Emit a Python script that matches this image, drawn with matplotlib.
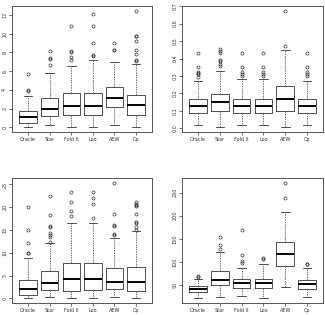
import matplotlib
matplotlib.use("Agg")
import matplotlib.pyplot as plt

methods = ["Oracle", "Star", "Fold II", "Loo", "AEW", "Cp"]

# per panel: [low whisker, Q1, median, Q3, high whisker] for each method, plus outliers
tl_stats = [
    [0.0, 0.43, 1.07, 1.71, 3.31],
    [0.2, 1.25, 1.96, 3.10, 5.80],
    [0.0, 1.30, 2.24, 3.63, 6.60],
    [0.0, 1.28, 2.28, 3.67, 7.15],
    [0.28, 2.14, 3.13, 4.27, 7.00],
    [0.07, 1.30, 2.35, 3.49, 6.73],
]
tl_fliers = [
    [3.9, 4.0, 5.7],
    [6.7, 7.3, 7.4, 8.15],
    [7.2, 7.55, 8.0, 8.15, 10.8],
    [7.6, 7.7, 9.0, 10.85, 12.06],
    [8.22, 8.3, 9.0],
    [7.08, 7.2, 7.8, 8.26, 9.25, 9.7, 9.8, 12.46],
]

tr_stats = [
    [0.021, 0.086, 0.126, 0.166, 0.271],
    [0.006, 0.097, 0.149, 0.195, 0.328],
    [0.021, 0.086, 0.130, 0.166, 0.281],
    [0.021, 0.086, 0.126, 0.166, 0.281],
    [0.0095, 0.101, 0.168, 0.240, 0.448],
    [0.021, 0.086, 0.126, 0.166, 0.271],
]
tr_fliers = [
    [0.296, 0.313, 0.319, 0.324, 0.353, 0.431],
    [0.355, 0.368, 0.387, 0.391, 0.433, 0.445, 0.456],
    [0.300, 0.311, 0.322, 0.353, 0.431],
    [0.300, 0.311, 0.324, 0.353, 0.431],
    [0.471, 0.674],
    [0.298, 0.311, 0.321, 0.353, 0.431],
]

bl_stats = [
    [0.0, 0.66, 2.05, 4.02, 8.77],
    [0.22, 1.75, 3.29, 5.92, 12.06],
    [0.0, 1.68, 4.17, 7.68, 16.45],
    [0.0, 1.75, 4.24, 7.68, 16.45],
    [0.22, 1.97, 3.58, 6.58, 13.3],
    [0.0, 1.54, 3.58, 6.87, 14.7],
]
bl_fliers = [
    [9.87, 10.0, 12.06, 14.99, 20.1],
    [12.28, 13.5, 13.9, 14.25, 15.7, 15.9, 18.4, 22.5],
    [18.1, 19.2, 21.2, 23.3],
    [17.7, 20.6, 22.0, 23.3],
    [13.9, 14.1, 15.9, 16.2, 18.6, 25.4],
    [15.0, 15.7, 16.45, 16.8, 18.5, 20.2, 20.5, 20.8, 21.1],
]

br_stats = [
    [21.3, 34.9, 40.7, 47.1, 64.3],
    [24.2, 50.7, 60.8, 80.8, 122.5],
    [25.6, 42.8, 53.6, 64.3, 88.0],
    [21.3, 42.8, 54.3, 64.3, 96.6],
    [45.0, 92.3, 118.1, 144.0, 208.5],
    [23.5, 40.7, 51.4, 60.8, 88.0],
]
br_fliers = [
    [67.5, 68.7],
    [128.2, 137.5, 153.3],
    [98.8, 101.6, 114.6, 168.4],
    [106.0, 109.5],
    [238.7, 271.7],
    [95.2, 96.0],
]

panels = [
    (tl_stats, tl_fliers, [0, 2, 4, 6, 8, 10, 12], [0.037, 0.581, 0.431, 0.400]),
    (tr_stats, tr_fliers, [0.0, 0.1, 0.2, 0.3, 0.4, 0.5, 0.6, 0.7], [0.560, 0.581, 0.434, 0.400]),
    (bl_stats, bl_fliers, [0, 5, 10, 15, 20, 25], [0.037, 0.038, 0.431, 0.397]),
    (br_stats, br_fliers, [50, 100, 150, 200, 250], [0.560, 0.038, 0.434, 0.397]),
]

fig = plt.figure(figsize=(3.25, 3.15), dpi=100)
lc = "#333333"

for stats, fliers, yticks, rect in panels:
    ax = fig.add_axes(rect)
    bxp = []
    for name, s, f in zip(methods, stats, fliers):
        bxp.append({"label": name, "whislo": s[0], "q1": s[1], "med": s[2],
                    "q3": s[3], "whishi": s[4], "fliers": f})
    ax.bxp(bxp, widths=0.8,
           boxprops=dict(color=lc, linewidth=0.6),
           medianprops=dict(color="black", linewidth=1.4),
           whiskerprops=dict(color=lc, linewidth=0.5, linestyle=(0, (2, 1.5))),
           capprops=dict(color=lc, linewidth=0.6),
           capwidths=0.4,
           flierprops=dict(marker="o", markersize=2.2, markerfacecolor="none",
                           markeredgecolor=lc, markeredgewidth=0.5))
    lo = min(min(s[0] for s in stats), min(min(f) for f in fliers))
    hi = max(max(s[4] for s in stats), max(max(f) for f in fliers))
    pad = (hi - lo) * 0.04
    ax.set_ylim(lo - pad, hi + pad)
    ax.set_xlim(0.26, 6.74)
    ax.set_yticks(yticks)
    ax.set_yticklabels([str(t) for t in yticks], rotation=90, va="center")
    ax.tick_params(axis="both", labelsize=3.5, length=2, width=0.5, pad=1.5, colors=lc)
    for sp in ax.spines.values():
        sp.set_linewidth(0.7)
        sp.set_color("#555555")

fig.savefig("out.png", dpi=100)
